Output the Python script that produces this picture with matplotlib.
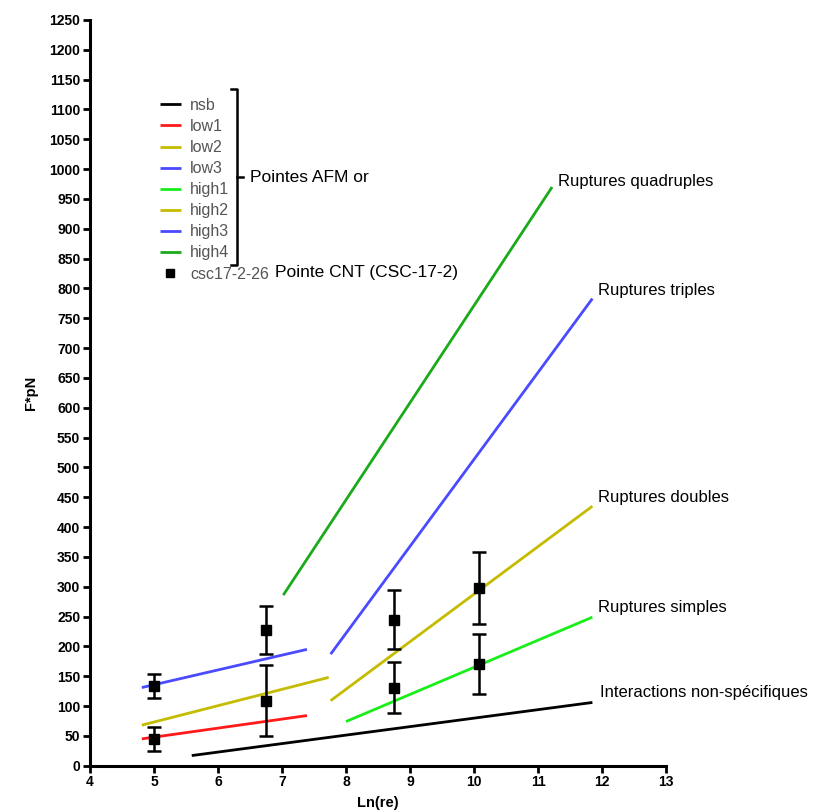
import matplotlib
matplotlib.use("Agg")
import matplotlib.pyplot as plt
from matplotlib.lines import Line2D

plt.rcParams['font.family'] = ['Liberation Sans', 'DejaVu Sans']

# fitted model lines (Ln(re), F*pN)
series_names = ["nsb", "low1", "low2", "low3", "high1", "high2", "high3", "high4"]
series_colors = ["#000000", "#ff1a1a", "#c4bc00", "#4a4aff", "#1aee1a", "#c4bc00", "#4a4aff", "#1aaa1a"]
nsb_x = [5.59, 11.85]
nsb_y = [17, 106]
low1_x = [4.81, 7.39]
low1_y = [45, 84]
low2_x = [4.81, 7.73]
low2_y = [68, 148]
low3_x = [4.81, 7.39]
low3_y = [131, 195]
high1_x = [8.0, 11.85]
high1_y = [74, 249]
high2_x = [7.76, 11.85]
high2_y = [109, 435]
high3_x = [7.76, 11.85]
high3_y = [187, 783]
high4_x = [7.02, 11.22]
high4_y = [286, 970]

# CNT tip measurements (csc17-2-26)
csc_x = [5.0, 5.0, 6.75, 6.75, 8.75, 8.75, 10.08, 10.08]
csc_y = [133, 45, 228, 109, 245, 131, 298, 170]
csc_err = [20, 20, 40, 60, 50, 42, 60, 50]

line_labels = ["Ruptures quadruples", "Ruptures triples", "Ruptures doubles",
               "Ruptures simples", "Interactions non-spécifiques"]
label_x = [11.31, 11.94, 11.94, 11.94, 11.97]
label_y = [979, 796, 449, 265, 122]

W, H = 827, 811
fig = plt.figure(figsize=(8.27, 8.11), dpi=100)
ax = fig.add_axes([90 / W, 1 - 765.7 / H, 576 / W, 745.7 / H])


def fx(px):
    return px / W


def fy(py):
    return 1 - py / H


all_x = [nsb_x, low1_x, low2_x, low3_x, high1_x, high2_x, high3_x, high4_x]
all_y = [nsb_y, low1_y, low2_y, low3_y, high1_y, high2_y, high3_y, high4_y]
handles = []
for name, col, xs, ys in zip(series_names, series_colors, all_x, all_y):
    ln, = ax.plot(xs, ys, color=col, lw=2.0, solid_capstyle='butt', label=name)
    handles.append(ln)

ax.errorbar(csc_x, csc_y, yerr=csc_err, fmt='s', color='black', ms=7,
            elinewidth=1.8, capsize=5, capthick=1.8, zorder=5)
handles.append(Line2D([], [], ls='none', marker='s', color='black', ms=6))

for t, x, y in zip(line_labels, label_x, label_y):
    ax.text(x, y, t, fontsize=12, va='center', ha='left', clip_on=False)

ax.set_xlim(4, 13)
ax.set_ylim(0, 1250)
ax.set_xticks(range(4, 14))
ax.set_yticks(range(0, 1251, 50))
for s in ['top', 'right']:
    ax.spines[s].set_visible(False)
for s in ['left', 'bottom']:
    ax.spines[s].set_linewidth(2.2)
ax.tick_params(width=2, length=5, labelsize=10, pad=2)
for lab in ax.get_xticklabels() + ax.get_yticklabels():
    lab.set_fontweight('bold')
ax.set_xlabel("Ln(re)", fontsize=10.5, fontweight='bold', labelpad=5)
ax.set_ylabel("F*pN", fontsize=10.5, fontweight='bold', labelpad=8)

leg = ax.legend(handles, series_names + ["csc17-2-26"], frameon=False,
                loc='upper left', bbox_to_anchor=(fx(152), fy(90)),
                bbox_transform=fig.transFigure, fontsize=11.5,
                handlelength=1.3, handletextpad=0.6, labelspacing=0.38,
                borderpad=0, labelcolor='#555555')

# bracket grouping the AFM gold tips
bx = 237
fig.add_artist(Line2D([fx(bx - 6), fx(bx), fx(bx), fx(bx - 6)],
                      [fy(89), fy(89), fy(265), fy(265)], color='black', lw=1.8))
fig.add_artist(Line2D([fx(bx), fx(bx + 6)], [fy(177), fy(177)], color='black', lw=1.8))
fig.text(fx(250), fy(177), "Pointes AFM or", fontsize=12.5, va='center', ha='left')
fig.text(fx(275), fy(272), "Pointe CNT (CSC-17-2)", fontsize=12.5, va='center', ha='left')

fig.savefig("out.png", dpi=100)
